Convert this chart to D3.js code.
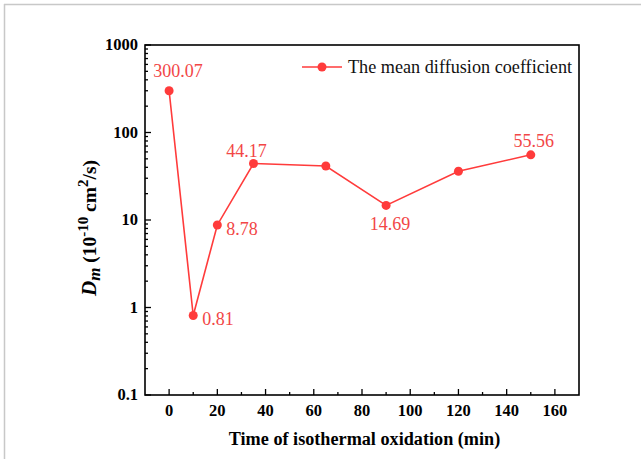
<!DOCTYPE html>
<html>
<head>
<meta charset="utf-8">
<script src="https://cdn.jsdelivr.net/npm/d3@7"></script>
<style>
  html, body { margin: 0; padding: 0; background: #fff; }
  svg { display: block; }
  svg text { font-family: "Liberation Serif", "Times New Roman", serif; }
</style>
</head>
<body>
<div id="chart"></div>
<script>
// --- data ---
const times = [0, 10, 20, 35, 65, 90, 120, 150];
const dm = [300.07, 0.81, 8.78, 44.17, 41.4, 14.69, 36.1, 55.56];
const pointLabels = ["300.07", "0.81", "8.78", "44.17", "", "14.69", "", "55.56"];
const xTicks = [0, 20, 40, 60, 80, 100, 120, 140, 160];
const yTicks = [0.1, 1, 10, 100, 1000];
const seriesName = "The mean diffusion coefficient";

const W = 641, H = 459;
const m = { left: 145, right: 62, top: 45, bottom: 64 };
const red = "#ff3b3b", labelRed = "#f24646";

const svg = d3.select("#chart").append("svg")
    .attr("width", W)
    .attr("height", H);

// page frame (top + left grey lines)
svg.append("line").attr("x1", 4).attr("y1", 4.5).attr("x2", W).attr("y2", 4.5)
    .attr("stroke", "#c8c8c8").attr("stroke-width", 1.5);
svg.append("line").attr("x1", 4.5).attr("y1", 4).attr("x2", 4.5).attr("y2", H)
    .attr("stroke", "#c8c8c8").attr("stroke-width", 1.5);

const x = d3.scaleLinear().domain([-10, 170]).range([m.left, W - m.right]);
const y = d3.scaleLog().domain([0.1, 1000]).range([H - m.bottom, m.top]);

// x ticks (inside)
const xMinor = d3.range(-10, 171, 10).filter(v => v % 20 !== 0 && v > -10 && v < 170);
const gx = svg.append("g").attr("stroke", "#000").attr("stroke-width", 1.3);
xTicks.forEach(v => gx.append("line")
    .attr("x1", x(v)).attr("x2", x(v)).attr("y1", y(0.1)).attr("y2", y(0.1) - 6));
xMinor.forEach(v => gx.append("line")
    .attr("x1", x(v)).attr("x2", x(v)).attr("y1", y(0.1)).attr("y2", y(0.1) - 3));

svg.append("g").selectAll("text").data(xTicks).join("text")
    .attr("x", d => x(d))
    .attr("y", H - m.bottom + 21)
    .attr("text-anchor", "middle")
    .attr("font-weight", "bold").attr("font-size", 16.5)
    .text(d => d);

// y ticks (inside, log minors)
const gy = svg.append("g").attr("stroke", "#000").attr("stroke-width", 1.3);
yTicks.forEach(v => gy.append("line")
    .attr("x1", m.left).attr("x2", m.left + 6).attr("y1", y(v)).attr("y2", y(v)));
yTicks.slice(0, -1).forEach(v => {
    for (let k = 2; k <= 9; k++) {
        gy.append("line")
            .attr("x1", m.left).attr("x2", m.left + 3)
            .attr("y1", y(v * k)).attr("y2", y(v * k));
    }
});

svg.append("g").selectAll("text").data(yTicks).join("text")
    .attr("x", m.left - 7)
    .attr("y", d => y(d) + 5)
    .attr("text-anchor", "end")
    .attr("font-weight", "bold").attr("font-size", 16.5)
    .text(d => d);

// frame around plot
svg.append("rect")
    .attr("x", m.left).attr("y", m.top)
    .attr("width", W - m.right - m.left).attr("height", H - m.bottom - m.top)
    .attr("fill", "none").attr("stroke", "#000").attr("stroke-width", 1.6);

// axis titles
svg.append("text")
    .attr("x", 364.5).attr("y", 445)
    .attr("text-anchor", "middle")
    .attr("font-weight", "bold").attr("font-size", 18.2)
    .text("Time of isothermal oxidation (min)");

const yt = svg.append("text")
    .attr("transform", "translate(96,228) rotate(-90)")
    .attr("text-anchor", "middle")
    .attr("font-weight", "bold").attr("font-size", 19.5);
yt.append("tspan").attr("font-style", "italic").attr("font-size", 21).text("D");
yt.append("tspan").attr("font-style", "italic").attr("dy", 4).attr("font-size", 17).text("m");
yt.append("tspan").attr("dy", -4).text(" (10");
yt.append("tspan").attr("dy", -8).attr("font-size", 15).text("-10");
yt.append("tspan").attr("dy", 8).text(" cm");
yt.append("tspan").attr("dy", -8).attr("font-size", 15).text("2");
yt.append("tspan").attr("dy", 8).text("/s)");

// series
const pts = times.map((t, i) => ({ t: t, v: dm[i], lab: pointLabels[i] }));
svg.append("path")
    .datum(pts)
    .attr("fill", "none").attr("stroke", red).attr("stroke-width", 1.6)
    .attr("d", d3.line().x(d => x(d.t)).y(d => y(d.v)));

svg.append("g").selectAll("circle").data(pts).join("circle")
    .attr("cx", d => x(d.t)).attr("cy", d => y(d.v)).attr("r", 4.5)
    .attr("fill", red);

// value labels: offsets per point
const labOff = [[9, -14, "middle"], [9, 9, "start"], [9, 10, "start"], [-7, -7, "middle"],
                [0, 0, "middle"], [4, 24.5, "middle"], [0, 0, "middle"], [3, -8, "middle"]];
svg.append("g").selectAll("text").data(pts).join("text")
    .attr("x", (d, i) => x(d.t) + labOff[i][0])
    .attr("y", (d, i) => y(d.v) + labOff[i][1])
    .attr("text-anchor", (d, i) => labOff[i][2])
    .attr("fill", labelRed)
    .attr("font-size", 18)
    .text(d => d.lab);

// legend
const lg = svg.append("g").attr("transform", "translate(302,67)");
lg.append("line").attr("x1", 0).attr("x2", 40).attr("y1", 0).attr("y2", 0)
    .attr("stroke", red).attr("stroke-width", 1.6);
lg.append("circle").attr("cx", 20).attr("cy", 0).attr("r", 4.5).attr("fill", red);
lg.append("text").attr("x", 46).attr("y", 6)
    .attr("font-size", 18.2).attr("fill", "#111")
    .text(seriesName);
</script>
</body>
</html>
